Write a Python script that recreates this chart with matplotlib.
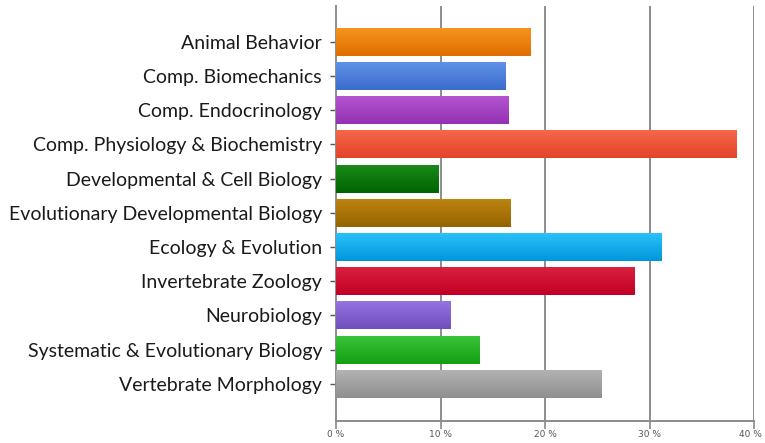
import numpy as np
import matplotlib
matplotlib.use("Agg")
import matplotlib.pyplot as plt
import matplotlib.transforms as mtransforms
from matplotlib.colors import LinearSegmentedColormap

categories = ["Animal Behavior", "Comp. Biomechanics", "Comp. Endocrinology",
              "Comp. Physiology & Biochemistry", "Developmental & Cell Biology",
              "Evolutionary Developmental Biology", "Ecology & Evolution",
              "Invertebrate Zoology", "Neurobiology",
              "Systematic & Evolutionary Biology", "Vertebrate Morphology"]
values = [18.6, 16.2, 16.5, 38.3, 9.8, 16.7, 31.1, 28.5, 10.9, 13.7, 25.4]
# (top, bottom) colours for the gradient of each bar
colors = [("#f7951e", "#e06e00"), ("#6193ea", "#3b6ccc"), ("#b655d2", "#9331b2"),
          ("#f7684a", "#e2442a"), ("#1c8a1c", "#006400"), ("#bd8510", "#976300"),
          ("#2cc3fa", "#0096dc"), ("#dc2140", "#c00025"), ("#9775e0", "#6f4fbf"),
          ("#3bc53b", "#12a012"), ("#b3b3b3", "#8f8f8f")]
xticks = [0, 10, 20, 30, 40]
xticklabels = ["0 %", "10 %", "20 %", "30 %", "40 %"]

fig = plt.figure(figsize=(7.65, 4.43), dpi=100)
ax = fig.add_axes([0.4392, 0.0503, 0.547, 0.9362])

y = np.arange(len(categories))
bars = ax.barh(y, values, height=0.82, color="none", edgecolor="none", zorder=3)
for b, (ctop, cbot) in zip(bars, colors):
    cmap = LinearSegmentedColormap.from_list("g", [ctop, cbot])
    x0, y0 = b.get_x(), b.get_y()
    w, h = b.get_width(), b.get_height()
    grad = np.linspace(0, 1, 64).reshape(-1, 1)
    im = ax.imshow(grad, cmap=cmap, aspect="auto", extent=(x0, x0 + w, y0 + h, y0),
                   origin="upper", zorder=3, interpolation="bilinear")
    im.set_clip_path(b)

ax.set_xlim(0, 40)
ax.set_ylim(len(categories) - 1 + 1.08, -1.05)
ax.set_yticks(y)
ax.set_yticklabels(categories, fontsize=14, family="Lato", color="#1a1a1a")
ax.set_xticks(xticks)
ax.set_xticklabels(xticklabels, fontsize=6.5, color="#555555")
ax.tick_params(axis="y", length=4, width=1, color="#555555", pad=6)
ax.tick_params(axis="x", direction="out", length=6, width=1.2, color="#888888", pad=1)
# last label sits slightly left of its tick, as in the original
last = ax.get_xticklabels()[-1]
last.set_transform(last.get_transform() +
                   mtransforms.ScaledTranslation(-4 / 100, 0, fig.dpi_scale_trans))

for v in xticks[1:]:
    ax.axvline(v, color="#8c8c8c", lw=1.4, zorder=1)

for s in ["top", "right"]:
    ax.spines[s].set_visible(False)
for s in ["left", "bottom"]:
    ax.spines[s].set_color("#8c8c8c")
    ax.spines[s].set_linewidth(1.4)

fig.savefig("out.png", dpi=100)
